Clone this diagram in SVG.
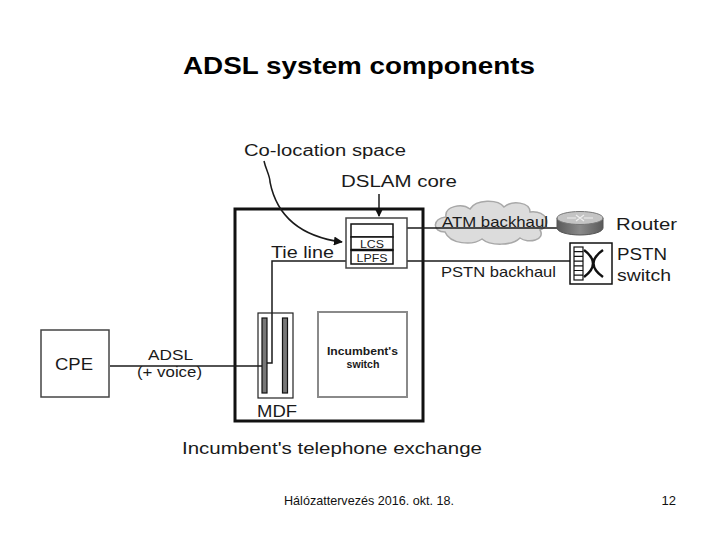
<svg xmlns="http://www.w3.org/2000/svg" width="720" height="540" viewBox="0 0 720 540">
<style>
.t{font-family:"Liberation Sans",Arial,sans-serif;fill:#1a1a1a;font-size:16px}
.s{font-size:15px}
.sm{font-size:10px}
.b{font-weight:bold}
.ln{stroke:#1a1a1a;stroke-width:1.5;fill:none}
</style>
<defs>
<marker id="ah" viewBox="0 0 10 10" refX="9" refY="5" markerWidth="9" markerHeight="9" markerUnits="userSpaceOnUse" orient="auto">
<path d="M0,0 L10,5 L0,10 z" fill="#111"/>
</marker>
<linearGradient id="rg" x1="0" y1="0" x2="1" y2="0">
<stop offset="0" stop-color="#5a5a5a"/><stop offset="0.5" stop-color="#8a8a8a"/><stop offset="1" stop-color="#5a5a5a"/>
</linearGradient>
</defs>
<rect width="720" height="540" fill="#fff"/>
<text class="t b" x="183" y="74" style="font-size:24px;fill:#000" textLength="352" lengthAdjust="spacingAndGlyphs">ADSL system components</text>

<g id="exchange">
<rect x="235" y="209" width="188" height="212" fill="#fff" stroke="#111" stroke-width="3"/>
<text class="t" x="182" y="454" style="font-size:17px" textLength="300" lengthAdjust="spacingAndGlyphs">Incumbent's telephone exchange</text>
</g>

<g id="cloud">
<path d="M445,232 C432,232 432,218 446,217 C444,206 462,203 470,209 C476,199 498,199 504,207 C512,200 530,202 530,212 C548,210 552,226 540,230 C546,240 528,244 520,238 C512,246 490,246 482,239 C472,246 450,244 445,232 z" fill="#dcdcdc" stroke="#a8a8a8" stroke-width="1.5"/>
</g>

<g id="connectors">
<line class="ln" x1="393" y1="228" x2="558" y2="228"/>
<polyline class="ln" points="351,261 272,261 272,363 267,363"/>
<line class="ln" x1="393" y1="261" x2="575" y2="261"/>
<line class="ln" x1="110" y1="366" x2="262" y2="366"/>
<line class="ln" x1="379" y1="194" x2="379" y2="216" marker-end="url(#ah)"/>
<path class="ln" d="M264,161 C266,170 270,176 270,182 C276,212 296,236 342,242" marker-end="url(#ah)"/>
</g>

<g id="dslam">
<rect x="346" y="218" width="61" height="50" fill="#fff" stroke="#444" stroke-width="1.5"/>
<rect x="351" y="224" width="42" height="13" fill="#fff" stroke="#111" stroke-width="1.5"/>
<rect x="351" y="237" width="42" height="13" fill="#fff" stroke="#111" stroke-width="1.5"/>
<rect x="351" y="250" width="42" height="14" fill="#fff" stroke="#111" stroke-width="1.5"/>
<line x1="351" y1="250" x2="393" y2="250" stroke="#111" stroke-width="2.5"/>
<text class="t sm" x="372" y="248" text-anchor="middle" textLength="24" lengthAdjust="spacingAndGlyphs">LCS</text>
<text class="t sm" x="372" y="262" text-anchor="middle" textLength="31" lengthAdjust="spacingAndGlyphs">LPFS</text>
</g>

<g id="router">
<path d="M557,218 L557,228 A23,7 0 0 0 603,228 L603,218 z" fill="url(#rg)" stroke="#555" stroke-width="1"/>
<ellipse cx="580" cy="218" rx="23" ry="6.5" fill="#c4c4c4" stroke="#777" stroke-width="1"/>
<path d="M567,218 L576,218 M584,218 L593,218 M576,215 L584,221 M584,215 L576,221" stroke="#eee" stroke-width="1.2"/>
<text class="t" x="616" y="230" textLength="61" lengthAdjust="spacingAndGlyphs">Router</text>
</g>

<g id="pstn-switch">
<rect x="570" y="243" width="42" height="41" fill="#fff" stroke="#111" stroke-width="1.5"/>
<rect x="574" y="247" width="9" height="33" fill="#fff" stroke="#111" stroke-width="1.2"/>
<path d="M574,251.7 H583 M574,256.4 H583 M574,261.1 H583 M574,265.8 H583 M574,270.5 H583 M574,275.2 H583" stroke="#111" stroke-width="1.2"/>
<path d="M584,250 Q602,263.5 584,277 M603,250 Q584,263.5 603,277" fill="none" stroke="#111" stroke-width="2.5"/>
<text class="t" x="617" y="260" textLength="50" lengthAdjust="spacingAndGlyphs">PSTN</text>
<text class="t" x="617" y="281" textLength="54" lengthAdjust="spacingAndGlyphs">switch</text>
</g>

<g id="mdf">
<rect x="258" y="313" width="35" height="85" fill="none" stroke="#222" stroke-width="1.2"/>
<rect x="262" y="318" width="5" height="75" fill="#777" stroke="#111" stroke-width="1.2"/>
<rect x="282.5" y="318" width="5" height="75" fill="#777" stroke="#111" stroke-width="1.2"/>
<text class="t" x="257" y="417" textLength="40" lengthAdjust="spacingAndGlyphs">MDF</text>
</g>

<g id="incumbent-switch">
<rect x="318" y="312" width="89" height="85" fill="#fff" stroke="#8a8a8a" stroke-width="2"/>
<text class="t b" x="362.5" y="355" text-anchor="middle" style="font-size:10.5px" textLength="71" lengthAdjust="spacingAndGlyphs">Incumbent's</text>
<text class="t b" x="363" y="368" text-anchor="middle" style="font-size:10.5px" textLength="33" lengthAdjust="spacingAndGlyphs">switch</text>
</g>

<g id="cpe">
<rect x="41" y="330" width="68" height="67" fill="#fff" stroke="#444" stroke-width="1.5"/>
<text class="t" x="74" y="370" text-anchor="middle" textLength="38" lengthAdjust="spacingAndGlyphs">CPE</text>
</g>

<g id="labels">
<text class="t" x="244" y="156" textLength="162" lengthAdjust="spacingAndGlyphs">Co-location space</text>
<text class="t" x="341" y="187" textLength="116" lengthAdjust="spacingAndGlyphs">DSLAM core</text>
<text class="t" x="271" y="258" textLength="63" lengthAdjust="spacingAndGlyphs">Tie line</text>
<text class="t s" x="442" y="227" textLength="106" lengthAdjust="spacingAndGlyphs">ATM backhaul</text>
<text class="t s" x="441" y="277" textLength="115" lengthAdjust="spacingAndGlyphs">PSTN backhaul</text>
<text class="t s" x="148" y="360" textLength="45" lengthAdjust="spacingAndGlyphs">ADSL</text>
<text class="t s" x="137" y="377" textLength="65" lengthAdjust="spacingAndGlyphs">(+ voice)</text>
</g>

<text x="284" y="505" style="font-family:'Liberation Sans',Arial,sans-serif;font-size:13px;fill:#111" textLength="170" lengthAdjust="spacingAndGlyphs">Hálózattervezés 2016. okt. 18.</text>
<text x="676" y="505" text-anchor="end" style="font-family:'Liberation Sans',Arial,sans-serif;font-size:13px;fill:#111">12</text>
</svg>
